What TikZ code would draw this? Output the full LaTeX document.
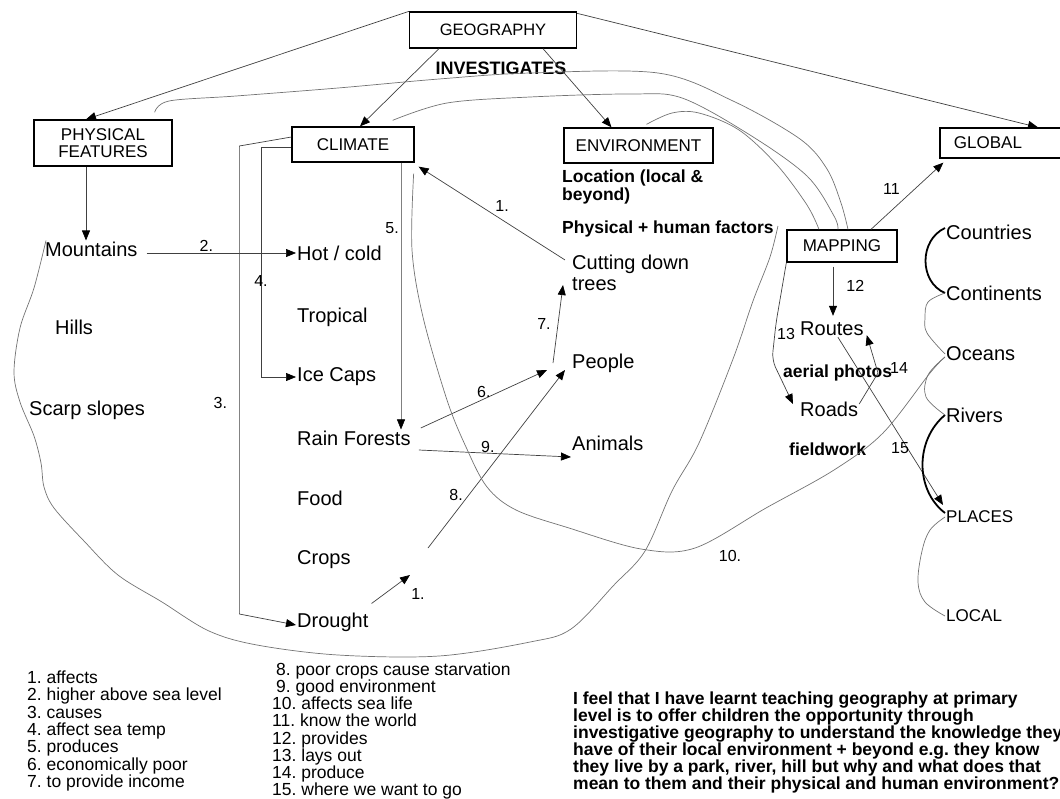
\documentclass[tikz,border=0pt]{standalone}
\usepackage{fontspec}
\setmainfont{Liberation Sans}
\usetikzlibrary{arrows.meta}
\frenchspacing
\tikzstyle{topicbox} = [draw=black, line width=1.3pt, rectangle, inner sep=0pt, font=\fontsize{17}{17}\selectfont]
\tikzstyle{itemtext} = [anchor=west, inner sep=1pt, align=left, font=\fontsize{20}{21}\selectfont]
\tikzstyle{notetext} = [anchor=west, inner sep=1pt, align=left, font=\fontsize{17.5}{18}\selectfont\bfseries]
\tikzstyle{smalltext} = [anchor=west, inner sep=1pt, font=\fontsize{17}{17}\selectfont]
\tikzstyle{numtext} = [inner sep=1pt, font=\fontsize{16}{16}\selectfont]
\tikzstyle{link} = [draw=black!75, line width=0.7pt, -{Triangle[length=10pt, width=8pt, black]}]
\tikzstyle{freehand} = [draw=black!55, line width=0.7pt]
\tikzstyle{brace} = [draw=black, line width=1.8pt]

\begin{document}
\begin{tikzpicture}[x=1pt, y=-1pt]
    \useasboundingbox (0,0) rectangle (1060,798);

    \node [topicbox, minimum width=167pt, minimum height=36pt, font=\fontsize{16.5}{17}\selectfont] (geo) at (493,30) {GEOGRAPHY};
    \node [notetext, anchor=center, font=\fontsize{18}{18}\selectfont\bfseries] (inv) at (501,68) {INVESTIGATES};
    \node [topicbox, minimum width=138pt, minimum height=46pt, align=center] (phys) at (103,143) {PHYSICAL\\FEATURES};
    \node [topicbox, minimum width=122pt, minimum height=35pt] (clim) at (353,144.5) {CLIMATE};
    \node [topicbox, minimum width=149pt, minimum height=35pt] (env) at (638.5,145.5) {ENVIRONMENT};
    \node [topicbox, minimum width=122pt, minimum height=30pt] (glob) at (1001,143) {GLOBAL\hspace*{26pt}};
    \node [topicbox, minimum width=110pt, minimum height=32pt] (mapp) at (842,246) {MAPPING};

    \node [itemtext] (mount) at (44,249) {Mountains};
    \node [itemtext] (hills) at (54,327) {Hills};
    \node [itemtext] (scarp) at (28,410) {Scarp slopes};
    \node [itemtext] (hot) at (296,253) {Hot / cold};
    \node [itemtext] (trop) at (296,317) {Tropical};
    \node [itemtext] (ice) at (296,377) {Ice Caps};
    \node [itemtext] (rain) at (296,438) {Rain Forests};
    \node [itemtext] (food) at (296,498) {Food};
    \node [itemtext] (crops) at (296,560) {Crops};
    \node [itemtext] (drought) at (296,622) {Drought};
    \node [notetext] (loc) at (561,187) {Location (local \&\\beyond)};
    \node [notetext] (phyhum) at (561,229) {Physical + human factors};
    \node [itemtext] (cut) at (571,273) {Cutting down\\trees};
    \node [itemtext] (people) at (571,363) {People};
    \node [itemtext] (animals) at (571,443) {Animals};
    \node [itemtext] (routes) at (799,329) {Routes};
    \node [itemtext] (roads) at (799,409) {Roads};
    \node [notetext] (aerial) at (782,373) {aerial photos};
    \node [notetext] (field) at (788,449) {fieldwork};
    \node [itemtext] (countries) at (945,232) {Countries};
    \node [itemtext] (contin) at (945,293) {Continents};
    \node [itemtext] (oceans) at (945,354) {Oceans};
    \node [itemtext] (rivers) at (945,415) {Rivers};
    \node [smalltext] (places) at (945,517) {PLACES};
    \node [smalltext] (local) at (945,616) {LOCAL};

    \coordinate (c8) at (428,548);
    \coordinate (c1) at (410,575);

    \draw [link] (geo.north west) -- ([xshift=-17pt]phys.north);
    \draw [link] ([xshift=-54pt]geo.south) -- ([xshift=7pt]clim.north);
    \draw [link] ([xshift=50pt]geo.south) -- ([xshift=-27pt]env.north);
    \draw [link] ([yshift=-2pt]geo.north east) -- ([xshift=37pt]glob.north);
    \draw [link] ([xshift=-17pt]phys.south) -- ([xshift=-17pt]phys.south |- mount.north);
    \draw [link, shorten <=8pt] (mount.east |- hot.west) -- node[numtext, above, pos=.43] {2.} (hot.west);
    \draw [link] ([yshift=7.5pt]clim.west) -- ++(-52,9) -- ++(0,468) node[numtext, pos=.55, left=11pt] {3.} -- ([yshift=-3pt]drought.west);
    \draw [link] ([yshift=-2.5pt]clim.west) -- ++(-30,0) |- (ice.west);
    \node [numtext] (n4) at (261,281) {4.};
    \draw [link, draw=black!50, line width=.5pt] ([xshift=48pt]clim.south) -- ([xshift=48pt]clim.south |- rain.north) node[numtext, pos=.245, left=1pt] {5.};
    \draw [link] ([xshift=-6pt,yshift=-6pt]cut.north west) -- node[numtext, pos=.45, above=5pt, xshift=3pt] {1.} ([xshift=4pt,yshift=-4pt]clim.south east);
    \draw [link] ([xshift=9pt,yshift=10pt]rain.east) -- node[numtext, midway, above] {6.} ([xshift=-24pt,yshift=-7pt]people.west);
    \draw [link] ([xshift=7pt,yshift=-12pt]rain.east) -- node[numtext, midway, above, xshift=-7pt] {9.} ([yshift=-14pt]animals.west);
    \draw [link] ([xshift=-18pt]people.west) -- node[numtext, midway, left=6pt] {7.} ([xshift=-8pt,yshift=7pt]cut.south west);
    \draw [link] (c8) -- node[numtext, pos=.3, left=5pt] {8.} ([xshift=-6pt,yshift=-7pt]people.west);
    \draw [link] ([xshift=2pt,yshift=8pt]drought.north east) -- (c1);
    \node [numtext] (n1b) at (418,594) {1.};

    \draw [link] ([xshift=29pt]mapp.north) -- node[numtext, midway, above left, xshift=-6pt] {11} ([xshift=4pt,yshift=-4pt]glob.south west);
    \draw [link, shorten <=4pt, shorten >=5pt] ([xshift=-9pt]mapp.south) -- ([xshift=-9pt]mapp.south |- routes.north) node[numtext, pos=.4, right=12pt] {12};
    \draw [link, rounded corners=8pt] (mapp.south west) -- (776,323) -- (772,360) -- ([xshift=-6pt,yshift=5pt]roads.west);
    \node [numtext] (n13) at (786,334) {13};
    \draw [link] ([yshift=5pt]roads.east) -- (878,373) -- ([xshift=2pt,yshift=2pt]routes.south east);
    \node [numtext] (n14) at (899,368) {14};
    \draw [link] ([xshift=6pt]routes.south) -- node[numtext, pos=.66, left=-3pt] {15} ([xshift=-2pt,yshift=12pt]places.west);

    \draw [brace] ([yshift=4pt]countries.west) .. controls (919,240) and (919,282) .. (contin.west);
    \draw [brace] (rivers.west) .. controls (915,440) and (915,490) .. ([yshift=4pt]places.west);
    \draw [freehand] plot [smooth, tension=.6] coordinates {(contin.west) (928,302) (925,318) (927,333) (oceans.west)};
    \draw [freehand] plot [smooth, tension=.6] coordinates {([yshift=-3pt]oceans.west) (928,375) (926,397) (rivers.west)};
    \draw [freehand] plot [smooth, tension=.6] coordinates {(places.west) (930,530) (922,551) (918,582) (925,602) (local.west)};

    \draw [freehand] plot [smooth, tension=.55] coordinates {([xshift=2pt]mount.north west) (34,288) (20,328) (14,372) (20,402) (34,436) (41,463) (44,487) (54,508) (84,541) (118,575) (162,602) (209,631) (257,645) (338,655) (439,656) (530,642) (571,629) (614,585) (645,551) (672,491) (699,443) (733,359) (753,301) (770,257) ([xshift=3pt,yshift=3pt]phyhum.east)};
    \draw [freehand] plot [smooth, tension=.55] coordinates {([xshift=-1pt,yshift=-11pt]clim.south east) (412,250) (423,317) (447,400) (466,447) (487,487) (516,510) (569,528) (641,549) (695,548) (766,508) (834,470) (883,433) (930,373) ([yshift=-3pt]oceans.west)};
    \node [numtext] (n10) at (730,556) {10.};
    \draw [freehand] plot [smooth, tension=.55] coordinates {([xshift=-18pt,yshift=7pt]phys.north east) (169,101) (236,96) (338,88) (439,79) (530,73) (658,73) (733,101) (800,139) (827,169) (841,203) ([xshift=6pt]mapp.north)};
    \draw [freehand] plot [smooth, tension=.55] coordinates {([xshift=-22pt,yshift=6pt]clim.north east) (447,103) (530,97) (630,94) (682,98) (750,135) (807,176) (834,216) ([xshift=-4pt]mapp.north)};
    \draw [freehand] plot [smooth, tension=.55] coordinates {([xshift=8pt,yshift=3pt]env.north) (672,113) (699,113) (739,130) (777,165) (807,205) ([xshift=-23pt]mapp.north)};

    \node [anchor=north west, inner sep=0pt, align=left, font=\fontsize{17.5}{17.4}\selectfont] (legleft) at (27,670.5) {1. affects\\2. higher above sea level\\3. causes\\4. affect sea temp\\5. produces\\6. economically poor\\7. to provide income};
    \node [anchor=north west, inner sep=0pt, align=left, font=\fontsize{17.5}{17.2}\selectfont] (legright) at (272,662.5) {\hspace{4pt}8. poor crops cause starvation\\\hspace{4pt}9. good environment\\10. affects sea life\\11. know the world\\12. provides\\13. lays out\\14. produce\\15. where we want to go};
    \node [anchor=north west, inner sep=0pt, align=left, font=\fontsize{17.5}{17}\selectfont\bfseries] (reflect) at (573,692) {I feel that I have learnt teaching geography at primary\\level is to offer children the opportunity through\\investigative geography to understand the knowledge they\\have of their local environment + beyond e.g. they know\\they live by a park, river, hill but why and what does that\\mean to them and their physical and human environment?};
\end{tikzpicture}
\end{document}
